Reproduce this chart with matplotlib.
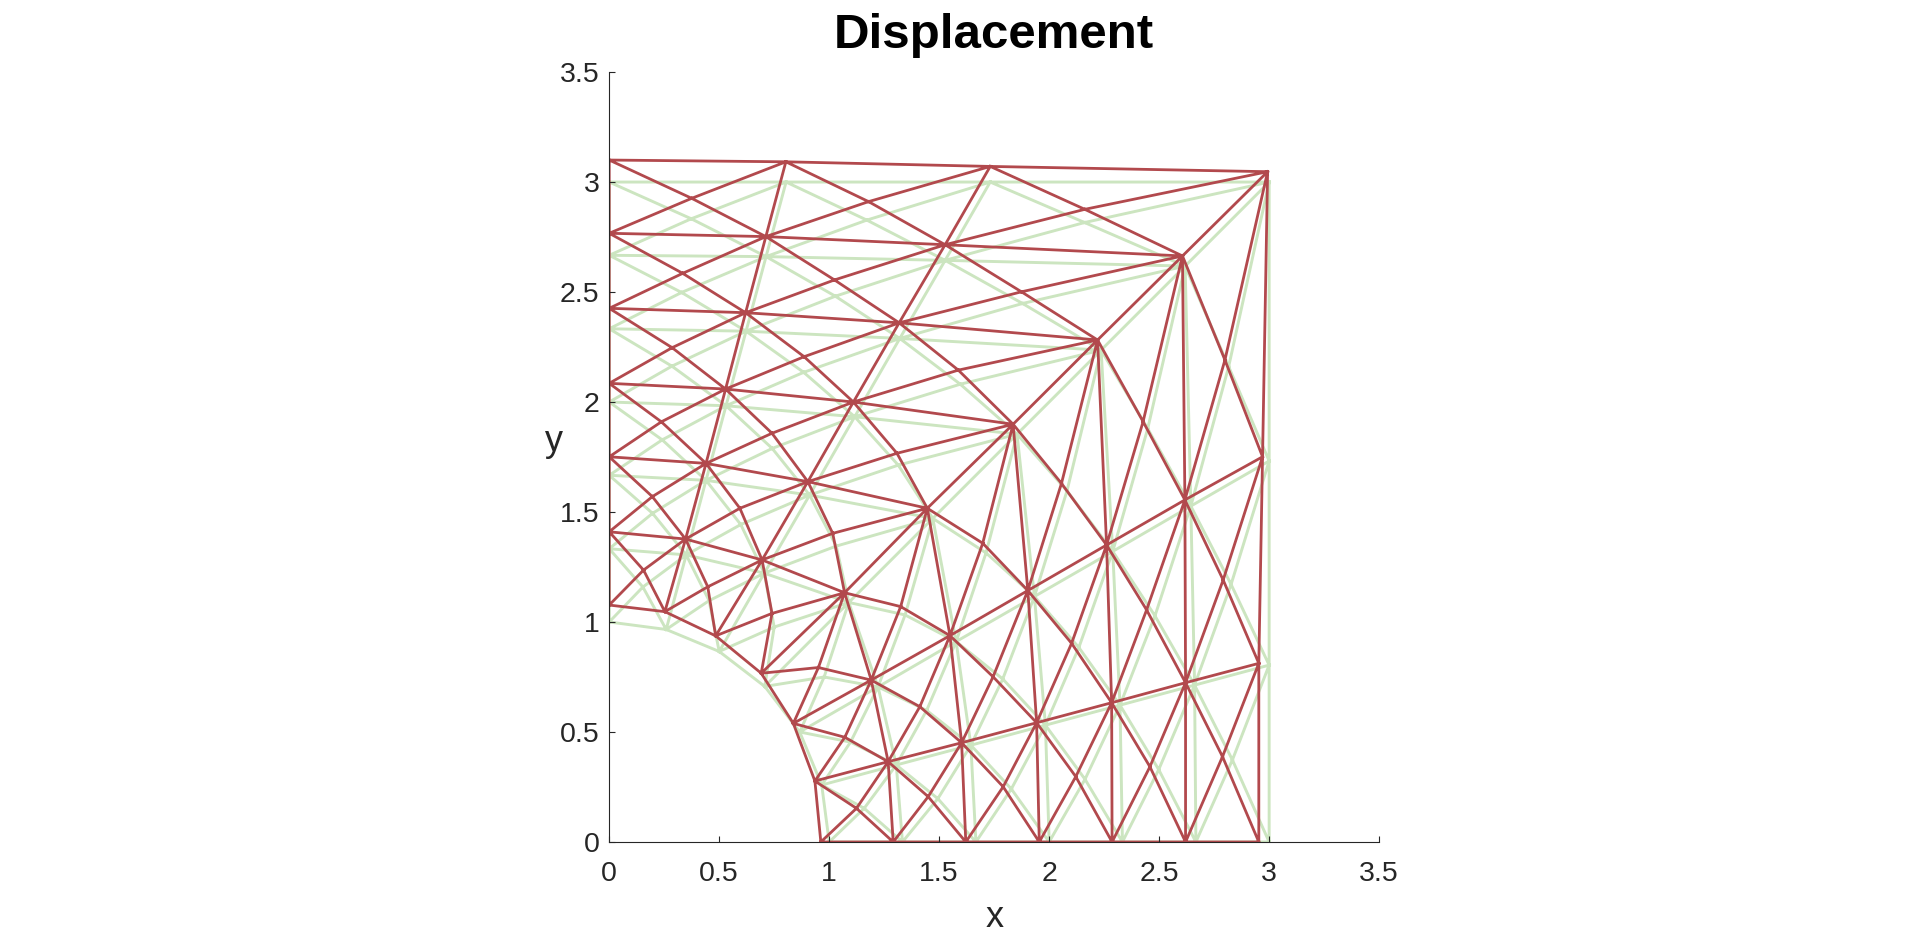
"""
Plate with a hole: undeformed mesh (green) and deformed mesh (red).
Each quad cell of the 7x7 mapped grid is split into 4 triangles around a centre node.
"""
import matplotlib
matplotlib.use("Agg")
import matplotlib.pyplot as plt
import matplotlib.tri as mtri
import numpy as np

plt.rcParams['font.family'] = ['Liberation Sans', 'DejaVu Sans']

# --- corner nodes, rows = angular line i (0 = bottom edge .. 6 = left edge), cols = radial step j (0 = hole .. 6 = outer)
X_ORIG = [
    [1.000, 1.333, 1.667, 2.000, 2.333, 2.667, 3.000],
    [0.966, 1.305, 1.644, 1.983, 2.322, 2.661, 3.000],
    [0.866, 1.222, 1.577, 1.933, 2.289, 2.644, 3.000],
    [0.707, 1.089, 1.471, 1.854, 2.236, 2.618, 3.000],
    [0.500, 0.705, 0.911, 1.116, 1.321, 1.527, 1.732],
    [0.259, 0.350, 0.440, 0.531, 0.622, 0.713, 0.804],
    [0.000, 0.000, 0.000, 0.000, 0.000, 0.000, 0.000],
]
Y_ORIG = [
    [0.000, 0.000, 0.000, 0.000, 0.000, 0.000, 0.000],
    [0.259, 0.350, 0.440, 0.531, 0.622, 0.713, 0.804],
    [0.500, 0.705, 0.911, 1.116, 1.321, 1.527, 1.732],
    [0.707, 1.089, 1.471, 1.854, 2.236, 2.618, 3.000],
    [0.866, 1.222, 1.577, 1.933, 2.289, 2.644, 3.000],
    [0.966, 1.305, 1.644, 1.983, 2.322, 2.661, 3.000],
    [1.000, 1.333, 1.667, 2.000, 2.333, 2.667, 3.000],
]
X_DEF = [
    [0.962, 1.291, 1.621, 1.955, 2.286, 2.620, 2.953],
    [0.935, 1.268, 1.602, 1.943, 2.284, 2.620, 2.953],
    [0.837, 1.191, 1.549, 1.903, 2.261, 2.617, 2.970],
    [0.691, 1.070, 1.446, 1.836, 2.220, 2.606, 2.993],
    [0.484, 0.695, 0.903, 1.110, 1.318, 1.527, 1.732],
    [0.253, 0.347, 0.440, 0.529, 0.620, 0.712, 0.803],
    [0.000, 0.000, 0.000, 0.000, 0.000, 0.000, 0.000],
]
Y_DEF = [
    [0.000, 0.000, 0.000, 0.000, 0.000, 0.000, 0.000],
    [0.277, 0.365, 0.451, 0.542, 0.633, 0.724, 0.812],
    [0.539, 0.736, 0.938, 1.143, 1.350, 1.555, 1.751],
    [0.767, 1.133, 1.517, 1.899, 2.282, 2.664, 3.047],
    [0.937, 1.282, 1.638, 2.000, 2.360, 2.715, 3.071],
    [1.047, 1.377, 1.721, 2.059, 2.406, 2.752, 3.092],
    [1.077, 1.410, 1.751, 2.085, 2.426, 2.767, 3.100],
]

# --- centre nodes of each cell, rows = cell between lines k and k+1, cols = cell between steps j and j+1
XC_ORIG = [
    [1.159, 1.494, 1.828, 2.163, 2.498, 2.833],
    [1.097, 1.443, 1.789, 2.135, 2.481, 2.827],
    [0.977, 1.345, 1.713, 2.081, 2.448, 2.816],
    [0.750, 1.032, 1.314, 1.596, 1.879, 2.161],
    [0.454, 0.598, 0.741, 0.884, 1.028, 1.171],
    [0.153, 0.197, 0.241, 0.285, 0.329, 0.373],
]
YC_ORIG = [
    [0.153, 0.197, 0.241, 0.285, 0.329, 0.373],
    [0.454, 0.598, 0.741, 0.884, 1.028, 1.171],
    [0.750, 1.032, 1.314, 1.596, 1.879, 2.161],
    [0.977, 1.345, 1.713, 2.081, 2.448, 2.816],
    [1.097, 1.443, 1.789, 2.135, 2.481, 2.827],
    [1.159, 1.494, 1.828, 2.163, 2.498, 2.833],
]
XC_DEF = [
    [1.124, 1.450, 1.791, 2.121, 2.458, 2.788],
    [1.071, 1.412, 1.745, 2.102, 2.443, 2.791],
    [0.951, 1.325, 1.698, 2.056, 2.427, 2.799],
    [0.740, 1.016, 1.308, 1.587, 1.874, 2.162],
    [0.448, 0.594, 0.740, 0.886, 1.024, 1.179],
    [0.156, 0.196, 0.237, 0.286, 0.334, 0.375],
]
YC_DEF = [
    [0.153, 0.206, 0.251, 0.297, 0.342, 0.388],
    [0.476, 0.615, 0.751, 0.903, 1.055, 1.191],
    [0.793, 1.070, 1.358, 1.630, 1.911, 2.191],
    [1.039, 1.403, 1.767, 2.145, 2.501, 2.876],
    [1.160, 1.517, 1.858, 2.206, 2.555, 2.911],
    [1.236, 1.570, 1.910, 2.247, 2.585, 2.926],
]

TICKS = [0, 0.5, 1, 1.5, 2, 2.5, 3, 3.5]
TICK_LABELS = ["0", "0.5", "1", "1.5", "2", "2.5", "3", "3.5"]

ORIG_COLOR = "#CCE5C0"
DEF_COLOR = "#B2494D"
AXIS_COLOR = "#262626"


def build_triangles(n_lines, n_steps):
    """Four triangles per cell, all sharing the cell's centre node."""
    corner = lambda i, j: i * n_steps + j
    n_corner = n_lines * n_steps
    tris = []
    for i in range(n_lines - 1):
        for j in range(n_steps - 1):
            c = n_corner + i * (n_steps - 1) + j
            a, b = corner(i, j), corner(i, j + 1)
            d, e = corner(i + 1, j + 1), corner(i + 1, j)
            tris += [(c, a, b), (c, b, d), (c, d, e), (c, e, a)]
    return np.array(tris)


def make_triangulation(xs, ys, xcs, ycs, tris):
    x = np.concatenate([np.ravel(xs), np.ravel(xcs)])
    y = np.concatenate([np.ravel(ys), np.ravel(ycs)])
    return mtri.Triangulation(x, y, tris)


def main():
    tris = build_triangles(len(X_ORIG), len(X_ORIG[0]))
    tri_orig = make_triangulation(X_ORIG, Y_ORIG, XC_ORIG, YC_ORIG, tris)
    tri_def = make_triangulation(X_DEF, Y_DEF, XC_DEF, YC_DEF, tris)

    fig = plt.figure(figsize=(19.2, 9.46), dpi=100)
    ax = fig.add_axes([0.3173, 0.1099, 0.4010, 0.8140])

    ax.triplot(tri_orig, '-', color=ORIG_COLOR, lw=2.1)
    ax.triplot(tri_def, '-', color=DEF_COLOR, lw=2.0)

    ax.set_xlim(0, 3.5)
    ax.set_ylim(0, 3.5)
    ax.set_aspect('equal', adjustable='box')
    ax.set_xticks(TICKS, TICK_LABELS)
    ax.set_yticks(TICKS, TICK_LABELS)

    for side in ("top", "right"):
        ax.spines[side].set_visible(False)
    for side in ("left", "bottom"):
        ax.spines[side].set_color(AXIS_COLOR)
        ax.spines[side].set_linewidth(0.8)
    ax.tick_params(direction='in', length=4.3, width=0.8, color=AXIS_COLOR,
                   labelcolor=AXIS_COLOR, labelsize=20.5)
    ax.tick_params(axis='x', pad=14)
    ax.tick_params(axis='y', pad=7)

    ax.set_title("Displacement", fontsize=35.5, fontweight='bold', pad=17)
    ax.set_xlabel("x", fontsize=26, color=AXIS_COLOR, va='baseline')
    ax.set_ylabel("y", fontsize=26, color=AXIS_COLOR, rotation=0,
                  ha='center', va='baseline')
    ax.xaxis.set_label_coords(0.5, -0.110)
    ax.yaxis.set_label_coords(-0.072, 0.508)

    fig.savefig("out.png", dpi=100)


if __name__ == "__main__":
    main()
